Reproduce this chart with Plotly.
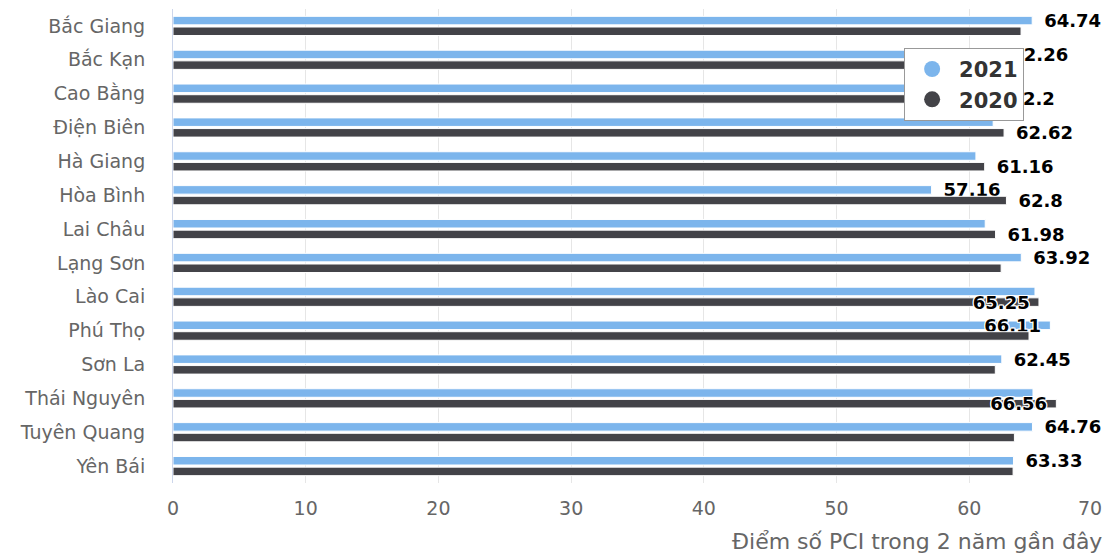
import plotly.graph_objects as go

provinces = ["Bắc Giang", "Bắc Kạn", "Cao Bằng", "Điện Biên", "Hà Giang", "Hòa Bình",
             "Lai Châu", "Lạng Sơn", "Lào Cai", "Phú Thọ", "Sơn La", "Thái Nguyên",
             "Tuyên Quang", "Yên Bái"]
pci_2021 = [64.74, 62.26, 61.5, 61.8, 60.5, 57.16, 61.2, 63.92, 64.95, 66.11, 62.45, 64.8, 64.76, 63.33]
pci_2020 = [63.9, 61.0, 62.2, 62.62, 61.16, 62.8, 61.98, 62.4, 65.25, 64.5, 61.96, 66.56, 63.4, 63.3]

# which data label is visible for each bar: "outside", "inside" or "none"
label_pos_2021 = ["outside", "outside", "none", "none", "none", "outside", "none",
                  "outside", "none", "inside", "outside", "none", "outside", "outside"]
label_pos_2020 = ["none", "none", "outside", "outside", "outside", "outside", "outside",
                  "none", "inside", "none", "none", "inside", "none", "none"]
# labels drawn with a white halo
label_halo_2021 = [False, False, False, False, False, True, False,
                   False, False, True, False, False, False, False]
label_halo_2020 = [False, False, False, False, False, False, False,
                   False, True, False, False, True, False, False]

axis_title = "Điểm số PCI trong 2 năm gần đây"

C2021 = "#7cb5ec"
C2020 = "#434348"
FONT = "DejaVu Sans"
HALO = ("1px 1px 0 white, -1px -1px 0 white, 1px -1px 0 white, -1px 1px 0 white, "
        "0 1px 0 white, 0 -1px 0 white, 1px 0 0 white, -1px 0 0 white")


def label_texts(values, positions):
    out = []
    for v, p in zip(values, positions):
        if p == "outside":
            out.append("\u2002" + f"{v:g}")
        elif p == "inside":
            out.append(f"{v:g}" + "\u00a0")
        else:
            out.append("")
    return out


fig = go.Figure()
for nm, vals, pos, halo, col in [("2021", pci_2021, label_pos_2021, label_halo_2021, C2021),
                                 ("2020", pci_2020, label_pos_2020, label_halo_2020, C2020)]:
    fig.add_trace(go.Bar(
        y=provinces, x=vals, name=nm, orientation="h",
        marker=dict(color=col, line=dict(color="white", width=1)),
        text=label_texts(vals, pos), textposition=pos,
        insidetextanchor="end", constraintext="none", cliponaxis=False,
        textfont=dict(family=FONT, size=18, color="#000000", weight="bold",
                      shadow=[HALO if h else "none" for h in halo]),
        hoverinfo="x+y", showlegend=False))

# legend entries with circle symbols
for nm, col in [("2021", C2021), ("2020", C2020)]:
    fig.add_trace(go.Scatter(x=[None], y=[None], mode="markers", name=nm,
                             marker=dict(color=col, size=22, symbol="circle"),
                             xaxis="x2", showlegend=True))

fig.add_annotation(x=1, y=-0.123, xref="paper", yref="paper", xanchor="right",
                   yanchor="middle", showarrow=False, text=axis_title, xshift=2,
                   font=dict(family=FONT, size=22, color="#666666"))

tick_vals = [0, 10, 20, 30, 40, 50, 60, 70]
tick_text = ["0", "10", "20", "30", "40", "50", "60", ""]

fig.update_layout(
    width=1111, height=554,
    margin=dict(l=173, r=9, t=9, b=71),
    paper_bgcolor="white", plot_bgcolor="white",
    barmode="group", bargap=0.37, bargroupgap=0.2,
    font=dict(family=FONT, size=18, color="#666666"),
    uniformtext=dict(mode=False),
    xaxis=dict(range=[0, 70], tickvals=tick_vals, ticktext=tick_text,
               showgrid=True, gridcolor="#e6e6e6", gridwidth=1,
               zeroline=False, showline=False, ticks="",
               ticklabelstandoff=12,
               tickfont=dict(family=FONT, size=19, color="#666666")),
    xaxis2=dict(overlaying="x", matches="x", side="bottom", range=[0, 70],
                tickvals=[70], ticktext=["70"], showgrid=False, zeroline=False,
                ticks="", ticklabelstandoff=12, ticklabelshift=-12,
                tickfont=dict(family=FONT, size=19, color="#666666")),
    yaxis=dict(autorange="reversed", showline=True, linecolor="#ccd6eb", linewidth=1,
               ticks="", ticklabelstandoff=23, showgrid=False,
               tickfont=dict(family=FONT, size=19, color="#666666")),
    legend=dict(x=0.787, y=0.918, xanchor="left", yanchor="top",
                bgcolor="white", bordercolor="#999999", borderwidth=1,
                font=dict(family=FONT, size=21, color="#333333", weight="bold"),
                itemsizing="trace", itemwidth=44),
)

fig.write_html("out.html")
